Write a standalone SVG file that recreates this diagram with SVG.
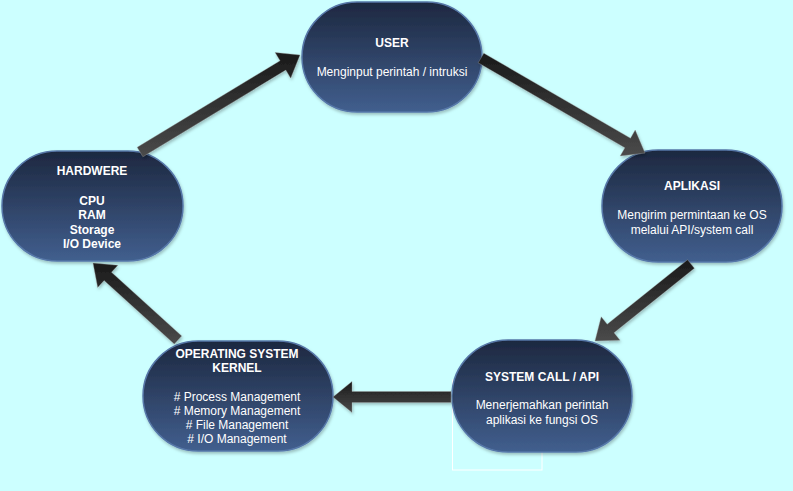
<svg xmlns="http://www.w3.org/2000/svg" width="793" height="491" viewBox="0 0 793 491">
<defs>
<linearGradient id="ng" x1="0" y1="0" x2="0" y2="1">
<stop offset="0" stop-color="#1d2840"/>
<stop offset="1" stop-color="#415f8e"/>
</linearGradient>
<linearGradient id="ag" x1="0" y1="0" x2="0" y2="1">
<stop offset="0" stop-color="#1a1a1a"/>
<stop offset="1" stop-color="#4a4a4a"/>
</linearGradient>
<filter id="sh" x="-20%" y="-20%" width="140%" height="140%">
<feDropShadow dx="1" dy="2" stdDeviation="1.5" flood-color="#000" flood-opacity="0.25"/>
</filter>
</defs>
<style>
.node{fill:url(#ng);stroke:#5677a8;stroke-width:1.5;filter:url(#sh)}
.t{font-family:"Liberation Sans",Arial,sans-serif;font-size:12px;fill:#ffffff;text-anchor:middle}
.b{font-weight:bold}
.arr{fill:url(#ag);stroke:#9a9a9a;stroke-width:0.6;stroke-opacity:0.6;filter:url(#sh)}
</style>
<rect width="793" height="491" fill="#ccffff"/>
<rect x="452.5" y="380" width="89.5" height="90" fill="none" stroke="#ffffff" stroke-width="1"/>
<g id="user">
<rect class="node" x="302" y="2" width="180" height="110" rx="55" ry="55"/>
<text class="t b" x="392" y="47">USER</text>
<text class="t" x="392" y="76">Menginput perintah / intruksi</text>
</g>
<g id="aplikasi">
<rect class="node" x="602" y="150" width="180" height="112" rx="56" ry="56"/>
<text class="t b" x="692" y="190">APLIKASI</text>
<text class="t" x="692" y="219">Mengirim permintaan ke OS</text>
<text class="t" x="692" y="234">melalui API/system call</text>
</g>
<g id="systemcall">
<rect class="node" x="452" y="340" width="180" height="112" rx="56" ry="56"/>
<text class="t b" x="542" y="381">SYSTEM CALL / API</text>
<text class="t" x="542" y="409">Menerjemahkan perintah</text>
<text class="t" x="542" y="424">aplikasi ke fungsi OS</text>
</g>
<g id="kernel">
<rect class="node" x="143" y="341" width="190" height="110" rx="55" ry="55"/>
<text class="t b" x="237" y="358">OPERATING SYSTEM</text>
<text class="t b" x="237" y="372">KERNEL</text>
<text class="t" x="237" y="401">#&#160;Process Management</text>
<text class="t" x="237" y="415">#&#160;Memory Management</text>
<text class="t" x="237" y="429">#&#160;File Management</text>
<text class="t" x="237" y="443">#&#160;I/O Management</text>
</g>
<g id="hardware">
<rect class="node" x="2" y="151" width="181" height="110" rx="55" ry="55"/>
<text class="t b" x="92" y="175">HARDWERE</text>
<text class="t b" x="92" y="205">CPU</text>
<text class="t b" x="92" y="219">RAM</text>
<text class="t b" x="92" y="234">Storage</text>
<text class="t b" x="92" y="248">I/O Device</text>
</g>
<g id="connectors">
<polygon class="arr" points="300,55 275.1,52.5 280.1,60.7 137.2,147.3 142.9,156.7 285.8,70.1 290.7,78.2"/>
<polygon class="arr" points="645,153 635.2,130 630.5,138.2 483.8,53.2 478.2,62.8 624.9,147.8 620.2,156"/>
<polygon class="arr" points="595,341 601.2,316.8 607.2,324.2 687.6,259.7 694.4,268.3 614,332.8 620,340.2"/>
<polygon class="arr" points="333,397 352,381.5 352,391.5 451,391.5 451,402.5 352,402.5 352,412.5"/>
<polygon class="arr" points="93,263 117.9,265.3 111.5,272.3 181.7,335.9 174.3,344.1 104.1,280.5 97.7,287.5"/>
</g>
</svg>
